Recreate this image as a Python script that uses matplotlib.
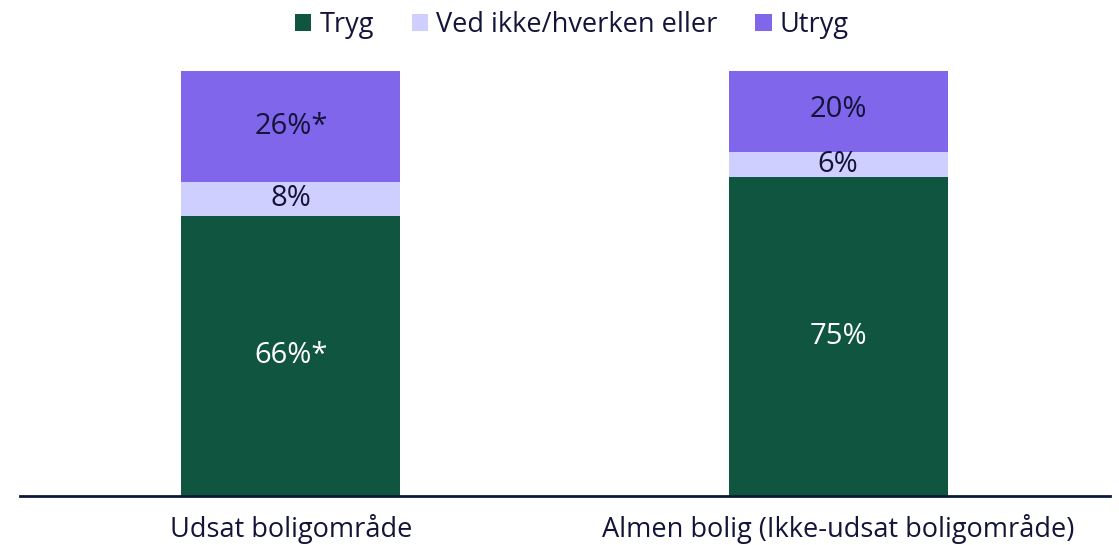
import matplotlib.pyplot as plt
import numpy as np

plt.rcParams['font.family'] = ['Open Sans', 'DejaVu Sans']

categories = ["Udsat boligområde", "Almen bolig (Ikke-udsat boligområde)"]
series_names = ["Tryg", "Ved ikke/hverken eller", "Utryg"]
tryg = [66, 75]
ved_ikke = [8, 6]
utryg = [26, 20]
labels_tryg = ["66%*", "75%"]
labels_ved = ["8%", "6%"]
labels_utryg = ["26%*", "20%"]

colors = ["#0f5540", "#cfcfff", "#7f66ea"]
text_dark = "#14143a"

fig = plt.figure(figsize=(11.19, 5.45), dpi=100)
ax = fig.add_axes([0.0179, 0.0899, 0.9741, 0.7798])

x = np.arange(len(categories))
width = 0.4
values = [tryg, ved_ikke, utryg]
texts = [labels_tryg, labels_ved, labels_utryg]
text_colors = ["white", text_dark, text_dark]

bottom = np.zeros(len(categories))
for vals, name, col, labs, tc in zip(values, series_names, colors, texts, text_colors):
    ax.bar(x, vals, width, bottom=bottom, color=col, label=name, linewidth=0)
    for xi, b, v, lab in zip(x, bottom, vals, labs):
        ax.text(xi, b + v / 2, lab, ha="center", va="center", color=tc, fontsize=21)
    bottom = bottom + np.array(vals)

ax.set_xlim(-0.495, 1.497)
ax.set_ylim(0, 100)
ax.set_xticks(x)
ax.set_xticklabels(categories, fontsize=19.5, color=text_dark)
ax.tick_params(axis="x", length=0, pad=13)
ax.set_yticks([])
for s in ["top", "right", "left"]:
    ax.spines[s].set_visible(False)
ax.spines["bottom"].set_color("#0c1a3a")
ax.spines["bottom"].set_linewidth(2)

leg = fig.legend(loc="upper center", bbox_to_anchor=(0.511, 1.025), ncol=3, frameon=False,
                 fontsize=19.5, handlelength=0.6, handleheight=0.6, handletextpad=0.3,
                 columnspacing=1.4)
for t in leg.get_texts():
    t.set_color(text_dark)

fig.savefig("out.png", dpi=100)
